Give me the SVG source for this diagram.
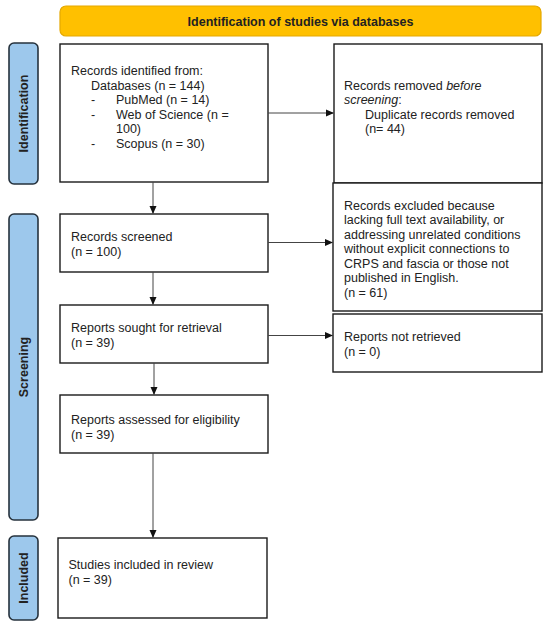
<svg xmlns="http://www.w3.org/2000/svg" width="550" height="628" viewBox="0 0 550 628">
<style>
text{font-family:"Liberation Sans",Arial,sans-serif;font-size:12.5px;fill:#222}
.box{fill:#fff;stroke:#1a1a1a;stroke-width:1.4}
.side{fill:#9DC8EC;stroke:#26323d;stroke-width:1.6}
.sl{font-weight:bold;font-size:12.5px;text-anchor:middle}
.conn{stroke:#444;stroke-width:1;fill:none}
</style>
<defs>
<marker id="ah" markerWidth="8" markerHeight="8" refX="7" refY="4" orient="auto" markerUnits="userSpaceOnUse">
<path d="M0,0.5 L8,4 L0,7.5 Z" fill="#111"/>
</marker>
</defs>
<rect width="550" height="628" fill="#fff"/>
<g id="header">
<rect x="60" y="6" width="481" height="30" rx="6" fill="#FFC000" stroke="#E5A800" stroke-width="1.2"/>
<text x="300.5" y="25.5" text-anchor="middle" style="font-weight:bold">Identification of studies via databases</text>
</g>
<g id="side-identification">
<rect class="side" x="9" y="43" width="29" height="141" rx="5"/>
<text class="sl" transform="translate(28,113.5) rotate(-90)">Identification</text>
</g>
<g id="side-screening">
<rect class="side" x="9" y="214" width="29" height="306" rx="5"/>
<text class="sl" transform="translate(28,367) rotate(-90)">Screening</text>
</g>
<g id="side-included">
<rect class="side" x="9" y="536" width="29" height="84" rx="5"/>
<text class="sl" transform="translate(28,578) rotate(-90)">Included</text>
</g>
<g id="records-identified">
<rect class="box" x="60" y="44" width="208" height="138"/>
<text x="71" y="75">Records identified from:</text>
<text x="91" y="89.5">Databases (n = 144)</text>
<text x="91" y="104">-</text><text x="116" y="104">PubMed (n = 14)</text>
<text x="91" y="118.5">-</text><text x="116" y="118.5">Web of Science (n =</text>
<text x="116" y="133">100)</text>
<text x="91" y="147.5">-</text><text x="116" y="147.5">Scopus (n = 30)</text>
</g>
<g id="records-removed">
<rect class="box" x="334" y="44" width="208" height="139"/>
<text x="344" y="89.5">Records removed <tspan font-style="italic">before</tspan></text>
<text x="344" y="104"><tspan font-style="italic">screening</tspan>:</text>
<text x="365" y="118.5">Duplicate records removed</text>
<text x="365" y="133">(n= 44)</text>
</g>
<g id="records-screened">
<rect class="box" x="60" y="214" width="208" height="58"/>
<text x="71" y="240.5">Records screened</text>
<text x="71" y="255.5">(n = 100)</text>
</g>
<g id="records-excluded">
<rect class="box" x="333" y="183" width="209" height="128"/>
<text x="344" y="209.5">Records excluded because</text>
<text x="344" y="224">lacking full text availability, or</text>
<text x="344" y="238.5">addressing unrelated conditions</text>
<text x="344" y="253">without explicit connections to</text>
<text x="344" y="267.5">CRPS and fascia or those not</text>
<text x="344" y="282">published in English.</text>
<text x="344" y="296.5">(n = 61)</text>
</g>
<g id="reports-sought">
<rect class="box" x="60" y="305" width="208" height="58"/>
<text x="71" y="331.5">Reports sought for retrieval</text>
<text x="71" y="346.5">(n = 39)</text>
</g>
<g id="reports-not-retrieved">
<rect class="box" x="333" y="314" width="209" height="58"/>
<text x="344" y="340.5">Reports not retrieved</text>
<text x="344" y="355.5">(n = 0)</text>
</g>
<g id="reports-assessed">
<rect class="box" x="60" y="395" width="208" height="58"/>
<text x="71" y="424">Reports assessed for eligibility</text>
<text x="71" y="438.5">(n = 39)</text>
</g>
<g id="studies-included">
<rect class="box" x="58" y="538" width="209" height="80"/>
<text x="68.5" y="568.5">Studies included in review</text>
<text x="68.5" y="583.5">(n = 39)</text>
</g>
<g id="connectors">
<line class="conn" x1="268" y1="113" x2="333" y2="113" marker-end="url(#ah)"/>
<line class="conn" x1="153" y1="182" x2="153" y2="213" marker-end="url(#ah)"/>
<line class="conn" x1="268" y1="242.5" x2="332" y2="242.5" marker-end="url(#ah)"/>
<line class="conn" x1="153" y1="272" x2="153" y2="304" marker-end="url(#ah)"/>
<line class="conn" x1="268" y1="335.5" x2="332" y2="335.5" marker-end="url(#ah)"/>
<line class="conn" x1="154" y1="363" x2="154" y2="394" marker-end="url(#ah)"/>
<line class="conn" x1="153" y1="453" x2="153" y2="537" marker-end="url(#ah)"/>
</g>
</svg>
